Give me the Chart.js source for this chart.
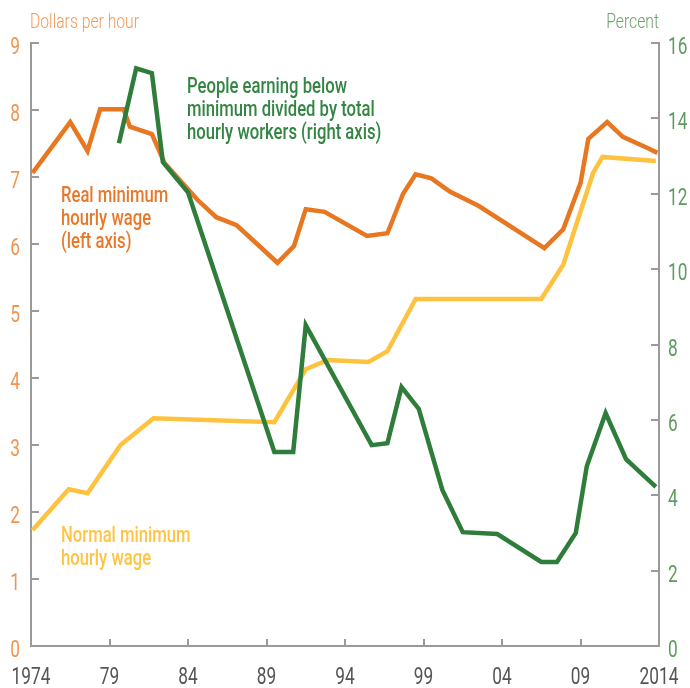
<!DOCTYPE html>
<html>
<head>
<meta charset="utf-8">
<script src="https://cdn.jsdelivr.net/npm/chart.js@4/dist/chart.umd.min.js"></script>
<style>
  body { margin: 0; background: #fff; }
  #wrap { width: 690px; height: 688px; }
</style>
</head>
<body>
<div id="wrap"><canvas id="chart" width="690" height="688"></canvas></div>
<script>
const FONT = "Roboto, 'Noto Sans', sans-serif";

// x ticks (years) and their labels
const xTicks = [1974, 1979, 1984, 1989, 1994, 1999, 2004, 2009, 2014];
const xTickLabels = ['1974', '79', '84', '89', '94', '99', '04', '09', '2014'];

// nominal minimum hourly wage (left axis, dollars)
const nominalYears = [1974.1, 1976.4, 1977.6, 1979.7, 1981.8, 1989.5, 1991.5, 1992.9, 1995.5, 1996.7, 1998.5, 2006.5, 2007.9, 2009.8, 2010.4, 2013.8];
const nominalWage = [1.73, 2.34, 2.28, 3.0, 3.40, 3.34, 4.13, 4.27, 4.24, 4.40, 5.18, 5.18, 5.69, 7.06, 7.30, 7.24];

// real minimum hourly wage (left axis, dollars)
const realYears = [1974.1, 1976.5, 1977.6, 1978.4, 1979.9, 1980.3, 1981.7, 1982.5, 1984.6, 1985.8, 1987.1, 1989.7, 1990.75, 1991.5, 1992.7, 1995.4, 1996.7, 1997.7, 1998.5, 1999.5, 2000.7, 2002.5, 2006.7, 2007.9, 2009.0, 2009.5, 2010.7, 2011.7, 2013.3, 2013.9];
const realWage = [7.06, 7.82, 7.39, 8.01, 8.01, 7.75, 7.64, 7.21, 6.66, 6.40, 6.28, 5.72, 5.97, 6.52, 6.48, 6.12, 6.16, 6.75, 7.04, 6.98, 6.78, 6.57, 5.94, 6.22, 6.91, 7.57, 7.82, 7.60, 7.43, 7.36];

// share earning below minimum (right axis, percent)
const belowYears = [1979.6, 1980.7, 1981.7, 1982.4, 1984.0, 1989.5, 1990.7, 1991.5, 1995.7, 1996.7, 1997.6, 1998.7, 2000.2, 2001.5, 2003.7, 2006.5, 2007.5, 2008.7, 2009.4, 2010.6, 2011.9, 2013.8];
const belowShare = [13.34, 15.33, 15.2, 12.84, 12.04, 5.15, 5.15, 8.51, 5.33, 5.38, 6.87, 6.29, 4.14, 3.02, 2.97, 2.23, 2.23, 3.0, 4.77, 6.18, 4.96, 4.22];

const pts = (xs, ys) => xs.map((x, i) => ({ x: x, y: ys[i] }));

const AXIS = '#9a9a9a';
const SQUEEZE = 0.72; // fake a condensed face

// draw text squeezed horizontally
function narrowText(ctx, s, x, y, align, sx) {
  const w = ctx.measureText(s).width * sx;
  let left = x;
  if (align === 'right') left = x - w;
  else if (align === 'center') left = x - w / 2;
  ctx.save();
  ctx.translate(left, y);
  ctx.scale(sx, 1);
  ctx.textAlign = 'left';
  ctx.fillText(s, 0, 0);
  ctx.restore();
}

// squeeze factor so that the first line gets a given width
function fitScale(ctx, s, width) {
  return width / ctx.measureText(s).width;
}

const extras = {
  id: 'extras',
  afterDraw(chart) {
    const { ctx, chartArea: a } = chart;
    const x = chart.scales.x, y = chart.scales.y, y1 = chart.scales.y1;
    ctx.save();

    // tick marks inside the plot
    ctx.strokeStyle = AXIS;
    ctx.lineWidth = 2;
    ctx.beginPath();
    y.ticks.forEach(t => {
      if (t.value === 0) return;
      const py = Math.round(y.getPixelForValue(t.value));
      ctx.moveTo(a.left, py); ctx.lineTo(a.left + 8, py);
    });
    y1.ticks.forEach(t => {
      if (t.value === 0) return;
      const py = Math.round(y1.getPixelForValue(t.value));
      ctx.moveTo(a.right, py); ctx.lineTo(a.right - 8, py);
    });
    x.ticks.forEach(t => {
      if (t.value === xTicks[0] || t.value === xTicks[xTicks.length - 1]) return;
      const px = Math.round(x.getPixelForValue(t.value));
      ctx.moveTo(px, a.bottom); ctx.lineTo(px, a.bottom - 7);
    });
    ctx.stroke();

    // tick labels
    ctx.textBaseline = 'alphabetic';
    ctx.font = '24px ' + FONT;
    ctx.fillStyle = '#F0944F';
    y.ticks.forEach(t => narrowText(ctx, String(t.value), a.left - 11, y.getPixelForValue(t.value) + 11, 'right', SQUEEZE));
    ctx.fillStyle = '#5E9B5E';
    y1.ticks.forEach(t => narrowText(ctx, String(t.value), a.right + 9, y1.getPixelForValue(t.value) + 11, 'left', SQUEEZE));
    ctx.fillStyle = '#555555';
    x.ticks.forEach(t => {
      const i = xTicks.indexOf(t.value);
      narrowText(ctx, xTickLabels[i], x.getPixelForValue(t.value), 684, 'center', SQUEEZE);
    });

    // axis titles
    ctx.font = '300 21px ' + FONT;
    let sx = fitScale(ctx, 'Dollars per hour', 109);
    ctx.fillStyle = '#F29A5A';
    narrowText(ctx, 'Dollars per hour', 30, 28, 'left', sx);
    ctx.fillStyle = '#6BA26B';
    narrowText(ctx, 'Percent', 659, 28, 'right', sx);

    // series notes
    ctx.font = '500 22px ' + FONT;
    ctx.fillStyle = '#348544';
    sx = fitScale(ctx, 'People earning below', 160);
    ['People earning below', 'minimum divided by total', 'hourly workers (right axis)']
      .forEach((s, i) => narrowText(ctx, s, 187, 93 + i * 23, 'left', sx));
    ctx.fillStyle = '#E8792B';
    ['Real minimum', 'hourly wage', '(left axis)']
      .forEach((s, i) => narrowText(ctx, s, 61, 202 + i * 23, 'left', sx));
    ctx.fillStyle = '#FFC444';
    ['Normal minimum', 'hourly wage']
      .forEach((s, i) => narrowText(ctx, s, 61, 542 + i * 23, 'left', sx));
    ctx.restore();
  }
};

new Chart(document.getElementById('chart'), {
  type: 'line',
  data: {
    datasets: [
      { label: 'People earning below minimum', data: pts(belowYears, belowShare), yAxisID: 'y1',
        borderColor: '#2F7D3A', borderWidth: 4.5, pointRadius: 0, tension: 0 },
      { label: 'Real minimum hourly wage', data: pts(realYears, realWage), yAxisID: 'y',
        borderColor: '#E87722', borderWidth: 4.5, pointRadius: 0, tension: 0 },
      { label: 'Normal minimum hourly wage', data: pts(nominalYears, nominalWage), yAxisID: 'y',
        borderColor: '#FFC23F', borderWidth: 4.5, pointRadius: 0, tension: 0 }
    ]
  },
  options: {
    responsive: false,
    animation: false,
    layout: { padding: { top: 43 } },
    plugins: { legend: { display: false }, tooltip: { enabled: false } },
    scales: {
      x: {
        type: 'linear', min: 1974, max: 2014,
        afterBuildTicks: s => { s.ticks = xTicks.map(v => ({ value: v })); },
        afterFit: s => { s.height = 42; },
        grid: { display: false },
        border: { display: true, color: AXIS, width: 2 },
        ticks: { display: false }
      },
      y: {
        position: 'left', min: 0, max: 9,
        afterFit: s => { s.width = 31; },
        grid: { display: false },
        border: { display: true, color: AXIS, width: 2 },
        ticks: { display: false, stepSize: 1 }
      },
      y1: {
        position: 'right', min: 0, max: 16,
        afterFit: s => { s.width = 31; },
        grid: { display: false },
        border: { display: true, color: AXIS, width: 2 },
        ticks: { display: false, stepSize: 2 }
      }
    }
  },
  plugins: [extras]
});
</script>
</body>
</html>
